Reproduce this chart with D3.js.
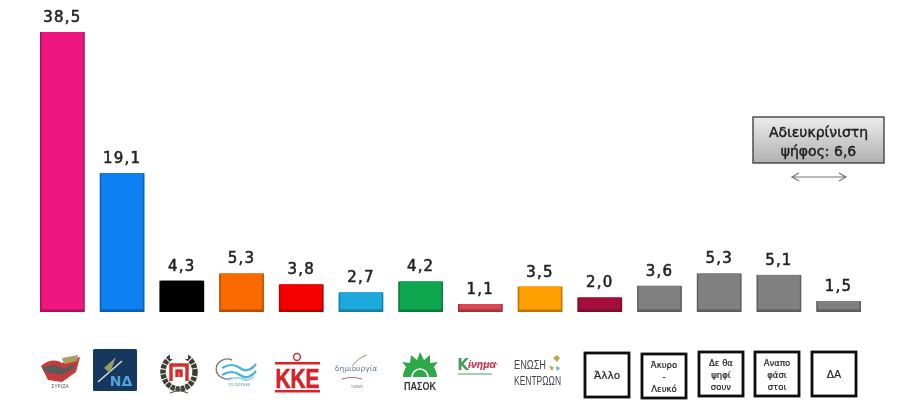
<!DOCTYPE html>
<html>
<head>
<meta charset="utf-8">
<script src="https://cdn.jsdelivr.net/npm/d3@7"></script>
<style>
  html, body { margin: 0; padding: 0; background: #fff; }
  svg { display: block; }
  text { font-family: "DejaVu Sans", sans-serif; }
</style>
</head>
<body>
<svg id="chart" width="900" height="407"></svg>
<script>
var categories = ['ΣΥΡΙΖΑ', 'ΝΔ', 'ΧΑ', 'Ποτάμι', 'ΚΚΕ', 'Δημιουργία', 'ΠΑΣΟΚ', 'Κίνημα', 'Ένωση Κεντρώων', 'Άλλο', 'Άκυρο', 'Δε θα ψηφίσουν', 'Αναποφάσιστοι', 'ΔΑ'];
var values = [38.5, 19.1, 4.3, 5.3, 3.8, 2.7, 4.2, 1.1, 3.5, 2.0, 3.6, 5.3, 5.1, 1.5];
var barColors = ['#f0187f', '#0a80f2', '#000000', '#fb6a00', '#f50505', '#1aa9dd', '#0aa650', '#dc4452', '#ffa000', '#a50e3e', '#808080', '#808080', '#808080', '#808080'];
var boxLabels = [['Άλλο'], ['Άκυρο', '-', 'Λευκό'], ['Δε θα', 'ψηφί', 'σουν'], ['Αναπο', 'φάσι', 'στοι'], ['ΔΑ']];
var boxTops = [353, 354, 352, 352, 352];
var boxLefts = [585, 642, 699, 755, 812];
var calloutLines = ['Αδιευκρίνιστη', 'ψήφος: 6,6'];

var svg = d3.select('#chart');
var defs = svg.append('defs');

var soft = defs.append('filter').attr('id', 'soft');
soft.append('feGaussianBlur').attr('stdDeviation', 0.6);

var calloutFill = defs.append('linearGradient').attr('id', 'calloutFill').attr('x2', 0).attr('y2', 1);
calloutFill.append('stop').attr('offset', 0).attr('stop-color', '#ececec');
calloutFill.append('stop').attr('offset', 1).attr('stop-color', '#b0b0b0');

var x = d3.scaleBand().domain(categories).range([40, 861]).paddingInner(0.25);
var y = d3.scaleLinear().domain([0, 38.5]).range([312, 32]);

var chart = svg.append('g').attr('filter', 'url(#soft)');

// bars, with a darker rim underneath like the bevel in the original
var bar = chart.selectAll('g.bar').data(categories).join('g').classed('bar', true);
bar.append('rect')
    .attr('x', function (d) { return x(d); })
    .attr('y', function (d, i) { return y(values[i]); })
    .attr('width', x.bandwidth())
    .attr('height', function (d, i) { return y(0) - y(values[i]); })
    .attr('fill', function (d, i) { return d3.color(barColors[i]).darker(0.9); });
bar.append('rect')
    .attr('x', function (d) { return x(d) + 1.5; })
    .attr('y', function (d, i) { return y(values[i]); })
    .attr('width', x.bandwidth() - 3)
    .attr('height', function (d, i) { return y(0) - y(values[i]) - 2.5; })
    .attr('fill', function (d, i) { return barColors[i]; });

// value labels
chart.selectAll('text.value').data(categories).join('text').classed('value', true)
    .attr('x', function (d) { return x(d) + x.bandwidth() / 2; })
    .attr('y', function (d, i) { return y(values[i]) - 10; })
    .attr('text-anchor', 'middle')
    .attr('font-size', 15)
    .attr('letter-spacing', 1.2)
    .attr('fill', '#222')
    .attr('stroke', '#222')
    .attr('stroke-width', 0.55)
    .text(function (d, i) { return d3.format('.1f')(values[i]).replace('.', ','); });

// callout
chart.append('rect').attr('x', 753).attr('y', 117).attr('width', 131).attr('height', 46)
    .attr('fill', 'url(#calloutFill)').attr('stroke', '#444').attr('stroke-width', 1.4);
chart.selectAll('text.callout').data(calloutLines).join('text').classed('callout', true)
    .attr('x', 818.5)
    .attr('y', function (d, i) { return 137 + i * 19; })
    .attr('text-anchor', 'middle')
    .attr('font-size', 14)
    .attr('fill', '#1c1c1c')
    .attr('stroke', '#1c1c1c')
    .attr('stroke-width', 0.4)
    .text(function (d) { return d; });
chart.append('path').attr('d', 'M793 177H845M799 173L792 177L799 181M839 173L846 177L839 181')
    .attr('fill', 'none').attr('stroke', '#777').attr('stroke-width', 1.2);

// boxes for the non-party answers
var box = chart.selectAll('g.box').data(boxLabels).join('g').classed('box', true)
    .attr('transform', function (d, i) { return 'translate(' + boxLefts[i] + ',' + boxTops[i] + ')'; });
box.append('rect').attr('width', 44).attr('height', 44).attr('fill', '#fff').attr('stroke', '#111').attr('stroke-width', 2.8);
box.selectAll('text').data(function (d) { return d; }).join('text')
    .attr('x', 22)
    .attr('y', function (d, i, n) { return 26 + (i - (n.length - 1) / 2) * 12; })
    .attr('text-anchor', 'middle')
    .attr('font-size', function (d, i, n) { return n.length === 1 ? 10.5 : 8.5; })
    .attr('fill', '#222')
    .attr('stroke', '#222')
    .attr('stroke-width', 0.2)
    .text(function (d) { return d; });

// party logos, rough drawings of each mark
var logos = chart.append('g');

function logoText(str, lx, ly, size, fill, weight, length) {
    var t = logos.append('text').attr('x', lx).attr('y', ly).attr('text-anchor', 'middle')
        .attr('font-size', size).attr('fill', fill).attr('font-weight', weight || 'normal').text(str);
    if (length) {
        t.attr('textLength', length).attr('lengthAdjust', 'spacingAndGlyphs').style('font-family', '"Liberation Sans", sans-serif');
    }
    return t;
}
function logoPath(d, fill, stroke, sw) {
    logos.append('path').attr('d', d).attr('fill', fill || 'none').attr('stroke', stroke || 'none').attr('stroke-width', sw || 0);
}

// ΣΥΡΙΖΑ flag
logoPath('M41 366Q52 357 62 363L80 357L76 372L62 382L48 380Z', '#c63a3a');
logoPath('M42 368Q54 362 64 369L76 363L72 370L60 375L46 372Z', '#5a5a5a');
logoPath('M62 358L78 355L77 361L64 364Z', '#a8a060');
logoText('ΣΥΡΙΖΑ', 60, 388, 5, '#555');

// ΝΔ square
logos.append('rect').attr('x', 93).attr('y', 349).attr('width', 44).attr('height', 42).attr('rx', 1.5).attr('fill', '#13375f');
logoPath('M98 382L122 361', 'none', '#d8dde0', 1.6);
logoPath('M104 368L116 357L110 373Z', '#9a9a62');
logoText('ΝΔ', 121, 386, 14, '#4fa4e0', 'bold');

// Golden Dawn wreath
logos.append('ellipse').attr('cx', 179).attr('cy', 372).attr('rx', 16).attr('ry', 17)
    .attr('fill', 'none').attr('stroke', '#3d3d30').attr('stroke-width', 5.5).attr('stroke-dasharray', '4 1');
logos.append('rect').attr('x', 170).attr('y', 350).attr('width', 18).attr('height', 9).attr('fill', '#fff');
logoPath('M171 381V365H187V381M177 377V371H181V377', 'none', '#d92b2b', 3.4);
logoPath('M170 393L188 387M188 393L170 387', 'none', '#555', 1.2);

// Potami waves
logoPath('M232 360A11 10 0 1 0 232 378', 'none', '#777', 1.4);
logoPath('M222 368Q232 362 240 368T256 364', 'none', '#4db2dd', 2.2);
logoPath('M222 375Q232 369 240 375T256 371', 'none', '#4db2dd', 2.2);
logoPath('M228 380Q236 376 242 379T254 377', 'none', '#8fd0ea', 1.6);
logoText('ΤΟ ΠΟΤΑΜΙ', 239, 386, 3.8, '#4a8a9a');

// ΚΚΕ
logos.append('rect').attr('x', 275).attr('y', 362).attr('width', 45).attr('height', 2.5).attr('fill', '#d8232a');
logos.append('rect').attr('x', 275).attr('y', 390).attr('width', 45).attr('height', 2.5).attr('fill', '#d8232a');
logos.append('circle').attr('cx', 297).attr('cy', 357).attr('r', 3.4).attr('fill', 'none').attr('stroke', '#c33').attr('stroke-width', 1.5);
logoText('ΚΚΕ', 297.5, 387.5, 28, '#d8232a', 'bold', 44).attr('stroke', '#d8232a').attr('stroke-width', 0.7);

// Δημιουργία script
logoText('δημιουργία', 356, 371, 7.5, '#5f7f8f');
logoPath('M352 366Q358 358 367 355', 'none', '#7a9a80', 1);
logoPath('M342 379Q352 376 362 379', 'none', '#b8555a', 1.2);
logoText('ΞΑΝΑ!', 357, 388, 4, '#777');

// ΠΑΣΟΚ sun
logoPath('M403 377A17 17 0 0 1 437 377Z', '#2fa84a');
logoPath('M407 368L402 362L410 363L411 355L417 360L420 352L424 360L430 355L430 363L438 362L433 368Z', '#2fa84a');
logoPath('M412 377A8 8 0 0 1 428 377', 'none', '#fff', 1.6);
logoText('ΠΑΣΟΚ', 420, 390, 11, '#333', 'bold', 32);

// Κίνημα script
logoText('Κ', 463, 370, 15, '#4a9a60', 'bold');
logoText('ίνημα', 482, 368, 10, '#c43050', 'bold', 28).attr('font-style', 'italic');
logoPath('M468 366Q482 362 498 364', 'none', '#e06070', 1);
logos.append('rect').attr('x', 458).attr('y', 373).attr('width', 34).attr('height', 2).attr('fill', '#a5d0b0');

// Ένωση Κεντρώων
logoText('ΕΝΩΣΗ', 530, 369, 12.5, '#444', 'normal', 32);
logoText('ΚΕΝΤΡΩΩΝ', 537.5, 385, 12.5, '#444', 'normal', 47);
logoPath('M553 358l4 -3l3 3l-3 4zM549 366l5 1l-2 4z', '#b9a94a');
logoPath('M556 366l4 2l-3 3z', '#6aa5c8');
</script>
</body>
</html>
